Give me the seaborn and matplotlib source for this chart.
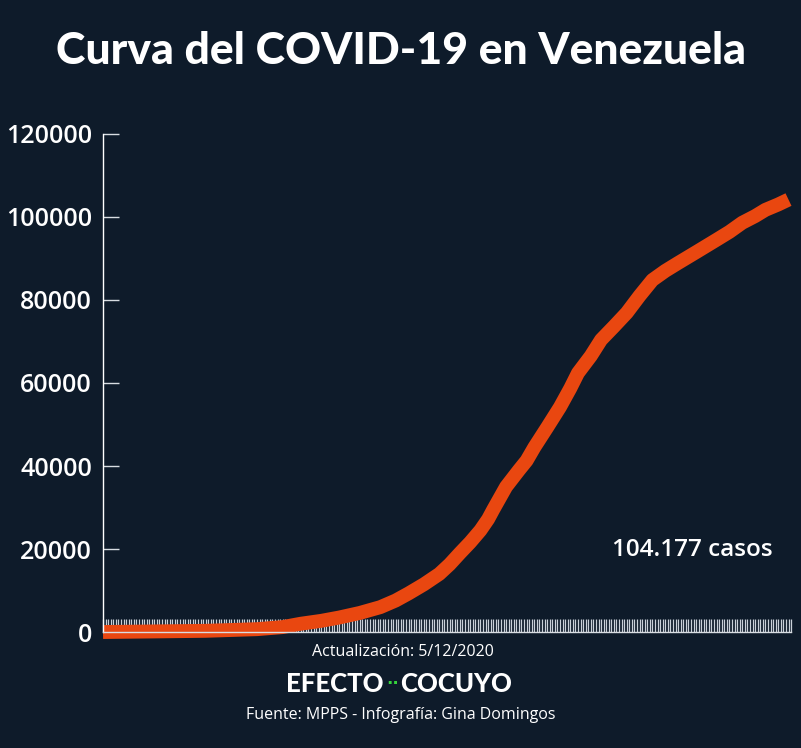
import matplotlib.pyplot as plt
import numpy as np
import pandas as pd
import seaborn as sns

# Casos acumulados (dia 0 = 13/03/2020)
dias = [0, 20, 40, 60, 70, 77, 85, 92, 100, 108, 114, 119, 125, 131, 135,
        139, 143, 147, 150, 152, 155, 157, 160, 162, 165, 168, 173, 178,
        182, 185, 190, 194, 199, 204, 209, 214, 219, 224, 231, 239, 244,
        249, 254, 258, 263, 267]
casos = [10, 150, 300, 700, 1200, 2000, 2700, 3500, 4600, 6000, 7600, 9300,
         11500, 14000, 16300, 19000, 21600, 24500, 27200, 29500, 32800,
         35000, 37400, 39000, 41300, 44500, 49300, 54200, 58700, 62400,
         66500, 70400, 73600, 76900, 81000, 84800, 87000, 88900, 91500,
         94500, 96400, 98600, 100200, 101700, 103000, 104177]
y_ticks = [0, 20000, 40000, 60000, 80000, 100000, 120000]
total_dias = 268

bg = '#0e1b2a'
naranja = '#e94710'

df = pd.DataFrame({'dia': dias, 'casos': casos})

sns.set_theme(style='dark', rc={'axes.facecolor': bg, 'figure.facecolor': bg})
plt.rcParams['font.family'] = ['Open Sans', 'DejaVu Sans']

fig = plt.figure(figsize=(8.01, 7.48), dpi=100)
ax = fig.add_axes([0.1286, 0.155, 0.859, 0.666])

sns.lineplot(data=df, x='dia', y='casos', ax=ax, color=naranja,
             linewidth=10, solid_capstyle='butt', solid_joinstyle='round',
             clip_on=False)

ax.set_xlim(0, total_dias)
ax.set_ylim(0, 120000)
ax.set_xlabel('')
ax.set_ylabel('')

# una marca por dia en el eje x
ax.set_xticks(np.arange(0, total_dias + 1))
ax.set_xticklabels([])
ax.tick_params(axis='x', direction='in', length=9.5, width=0.9,
               color='#c9d0d8', bottom=True)

ax.set_yticks(y_ticks)
ax.set_yticklabels([str(v) for v in y_ticks])
ax.tick_params(axis='y', direction='in', length=11.5, width=1,
               color='#d8dde2', left=True, labelcolor='white',
               labelsize=18, pad=8)
for lab in ax.get_yticklabels():
    lab.set_fontweight('semibold')

for side in ['top', 'right']:
    ax.spines[side].set_visible(False)
ax.spines['left'].set_color('white')
ax.spines['left'].set_linewidth(1)
ax.spines['bottom'].set_color('#d8dde2')
ax.spines['bottom'].set_linewidth(1)
ax.grid(False)

fig.text(0.5, 0.932, 'Curva del COVID-19 en Venezuela', ha='center',
         va='center', color='white', fontsize=32, fontweight='black',
         family=['Lato', 'DejaVu Sans'])

ax.text(0.973, 0.165, '104.177 casos', transform=ax.transAxes, ha='right',
        va='center', color='white', fontsize=17.5, fontweight='semibold')

fig.text(0.503, 0.128, 'Actualización: 5/12/2020', ha='center', va='center',
         color='white', fontsize=11.5)
fig.text(0.479, 0.085, 'EFECTO', ha='right', va='center', color='white',
         fontsize=18.5, fontweight='black', family=['Lato', 'DejaVu Sans'])
fig.text(0.4905, 0.085, '··', ha='center', va='center', color='#35d43c',
         fontsize=12, fontweight='bold', family=['DejaVu Sans'])
fig.text(0.500, 0.085, 'COCUYO', ha='left', va='center', color='white',
         fontsize=18.5, fontweight='black', family=['Lato', 'DejaVu Sans'])
fig.text(0.5, 0.044, 'Fuente: MPPS - Infografía: Gina Domingos', ha='center',
         va='center', color='white', fontsize=11.5)

fig.savefig('out.png', dpi=100, facecolor=bg)
